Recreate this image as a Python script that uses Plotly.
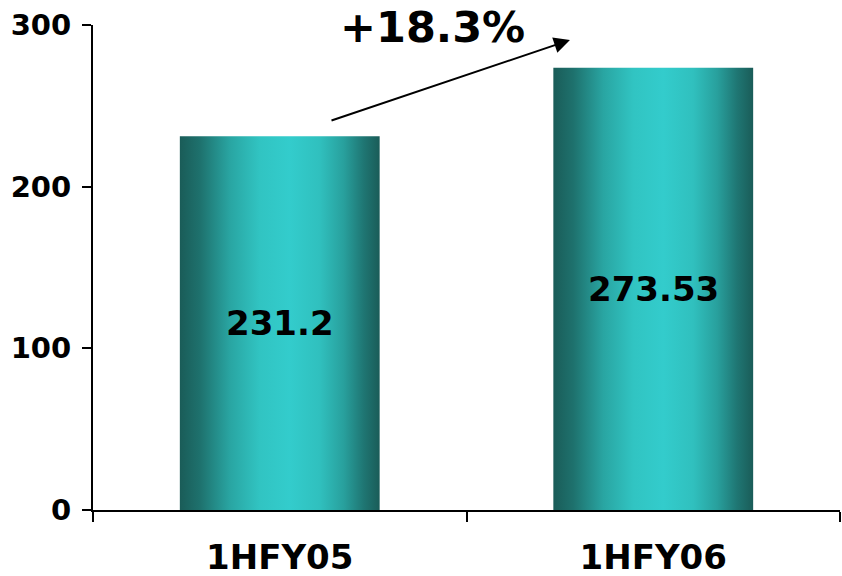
import plotly.graph_objects as go

categories = ["1HFY05", "1HFY06"]
values = [231.2, 273.53]
value_labels = ["231.2", "273.53"]
y_ticks = [0, 100, 200, 300]

BAR_W = 0.535
colorscale = [
    [0.0, "#1a5c58"], [0.1, "#1e716d"], [0.25, "#29a5a2"], [0.4, "#31c4c2"],
    [0.55, "#33cccc"], [0.7, "#30c0be"], [0.82, "#28a09d"], [0.92, "#1f7673"],
    [1.0, "#1a5c58"],
]
FONT = "DejaVu Sans"

fig = go.Figure()
for i, v in enumerate(values):
    x0, x1 = i - BAR_W / 2, i + BAR_W / 2
    fig.add_trace(go.Scatter(
        x=[x0, x1, x1, x0, x0], y=[0, 0, v, v, 0],
        mode="lines", line=dict(width=0), fill="toself",
        fillgradient=dict(type="horizontal", colorscale=colorscale),
        hoverinfo="skip", showlegend=False,
    ))
    fig.add_annotation(x=i, y=v / 2, text=value_labels[i], showarrow=False,
                       font=dict(family=FONT, size=34, color="black", weight="bold"))

growth = (values[1] / values[0] - 1) * 100
fig.add_annotation(x=0.41, y=0.995, xref="x", yref="paper", yanchor="middle",
                   text=f"+{growth:.1f}%", showarrow=False,
                   font=dict(family=FONT, size=43, color="black", weight="bold"))
fig.add_annotation(x=0.777, y=290.7, ax=0.1345, ay=240.6, xref="x", yref="y",
                   axref="x", ayref="y", text="", showarrow=True, arrowhead=2,
                   arrowsize=1.6, arrowwidth=2, arrowcolor="black")

fig.update_layout(
    width=842, height=576, margin=dict(l=93, r=2, t=25, b=66),
    plot_bgcolor="white", paper_bgcolor="white",
    xaxis=dict(range=[-0.5, 1.5], tickvals=[0, 1], ticktext=categories, ticks="",
               showline=True, linecolor="black", linewidth=2, showgrid=False, zeroline=False,
               ticklabelstandoff=16, automargin=False,
               tickfont=dict(family=FONT, size=34, color="black", weight="bold"),
               minor=dict(tickvals=[-0.5, 0.5, 1.5], ticks="outside", ticklen=10,
                          tickwidth=2, tickcolor="black", showgrid=False)),
    yaxis=dict(range=[0, 300], tickvals=y_ticks, ticks="outside", ticklen=9, tickwidth=2,
               tickcolor="black", showline=True, linecolor="black", linewidth=2,
               showgrid=False, zeroline=False, ticklabelstandoff=5, automargin=False,
               tickfont=dict(family=FONT, size=29, color="black", weight="bold")),
)
fig.write_html("out.html")
